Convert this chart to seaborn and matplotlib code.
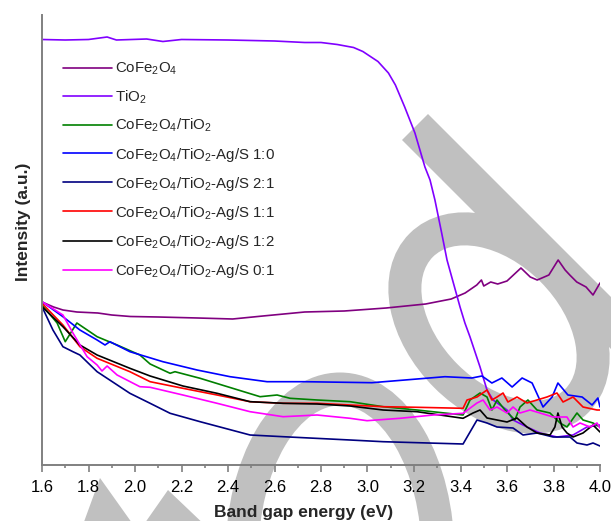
import matplotlib
matplotlib.use("Agg")
import matplotlib.pyplot as plt
from matplotlib.patches import Polygon, Ellipse
from matplotlib.ticker import MultipleLocator
import numpy as np
import pandas as pd
import seaborn as sns

# ---------------- data (band gap energy in eV, intensity in a.u.) ----------------
labels = [
    "CoFe$_\\mathregular{2}$O$_\\mathregular{4}$",
    "TiO$_\\mathregular{2}$",
    "CoFe$_\\mathregular{2}$O$_\\mathregular{4}$/TiO$_\\mathregular{2}$",
    "CoFe$_\\mathregular{2}$O$_\\mathregular{4}$/TiO$_\\mathregular{2}$-Ag/S 1:0",
    "CoFe$_\\mathregular{2}$O$_\\mathregular{4}$/TiO$_\\mathregular{2}$-Ag/S 2:1",
    "CoFe$_\\mathregular{2}$O$_\\mathregular{4}$/TiO$_\\mathregular{2}$-Ag/S 1:1",
    "CoFe$_\\mathregular{2}$O$_\\mathregular{4}$/TiO$_\\mathregular{2}$-Ag/S 1:2",
    "CoFe$_\\mathregular{2}$O$_\\mathregular{4}$/TiO$_\\mathregular{2}$-Ag/S 0:1",
]
colors = ["#800080", "#8000ff", "#008000", "#0000ff", "#000080", "#ff0000", "#000000", "#ff00ff"]

cofe_E = [1.60, 1.65, 1.69, 1.75, 1.84, 1.90, 1.98, 2.10, 2.27, 2.42, 2.55, 2.73, 2.90, 3.08,
          3.25, 3.36, 3.42, 3.47, 3.49, 3.50, 3.53, 3.56, 3.60, 3.66, 3.70, 3.73, 3.78, 3.82,
          3.85, 3.87, 3.90, 3.94, 3.97, 4.00]
cofe_I = [163, 158, 155, 153, 152, 150, 148.5, 148, 147, 146, 149, 153, 154, 157,
          161, 166, 172, 180, 185, 179, 183, 181, 184, 197, 188, 185, 190, 205,
          195, 190, 183, 178, 170, 182]

tio2_E = [1.60, 1.70, 1.80, 1.88, 1.92, 2.05, 2.12, 2.20, 2.40, 2.60, 2.73, 2.80, 2.87, 2.94,
          2.98, 3.045, 3.09, 3.12, 3.16, 3.204, 3.247, 3.269, 3.29, 3.319, 3.342, 3.398, 3.419,
          3.441, 3.484, 3.514, 3.54, 3.60, 3.626, 3.686, 3.742, 3.815, 3.884, 3.944, 4.00]
tio2_I = [425.5, 425, 425.5, 428, 425, 426, 423.5, 425.5, 425, 424, 422.5, 422.5, 420.5, 417.5,
          413.5, 403.5, 392, 380, 358, 332, 298, 285, 265, 232, 205, 158, 142,
          128, 98, 75, 65, 55, 45, 38, 32, 28, 30, 38, 40]

ct_E = [1.60, 1.665, 1.70, 1.75, 1.837, 1.923, 2.021, 2.065, 2.151, 2.172, 2.28, 2.42, 2.538,
        2.611, 2.667, 2.783, 2.925, 3.067, 3.213, 3.411, 3.441, 3.484, 3.514, 3.535, 3.557,
        3.591, 3.634, 3.656, 3.69, 3.729, 3.785, 3.828, 3.858, 3.901, 3.927, 3.97, 4.00]
ct_I = [160, 142, 123.3, 142, 128.3, 120, 110, 101, 91.7, 93.3, 86.7, 76.7, 68.3,
        70, 66.7, 65, 63.3, 58.3, 55, 50, 65, 72, 68, 55, 65,
        55, 45, 58, 65, 55, 52, 42, 38, 52, 45, 42, 38]

s10_E = [1.60, 1.69, 1.763, 1.837, 1.871, 1.892, 1.978, 2.12, 2.267, 2.409, 2.568, 2.731,
         3.019, 3.161, 3.333, 3.449, 3.492, 3.535, 3.578, 3.622, 3.665, 3.708, 3.755, 3.794,
         3.819, 3.862, 3.923, 3.966, 3.991, 4.00]
s10_I = [163.3, 148.3, 135, 125, 120, 123.3, 113.3, 103.3, 95, 88.3, 83.3, 83.3,
         82.3, 85, 88.3, 87, 89, 82, 87, 78, 87, 82, 58, 68,
         82, 70, 68, 60, 67, 58]

s21_E = [1.60, 1.647, 1.69, 1.733, 1.763, 1.837, 1.978, 2.065, 2.151, 2.28, 2.495, 2.637,
         2.925, 3.067, 3.411, 3.471, 3.514, 3.557, 3.626, 3.669, 3.729, 3.798, 3.871, 3.901,
         3.944, 3.97, 4.00]
s21_I = [158.3, 135, 118.3, 113.3, 110, 93.3, 71.7, 61.7, 51.7, 43.3, 30, 28.3,
         25, 23.3, 21, 45, 42, 38, 37, 30, 32, 28, 28, 22,
         20, 22, 19]

s11_E = [1.60, 1.69, 1.763, 1.837, 1.978, 2.065, 2.206, 2.353, 2.495, 2.637, 2.783, 2.925,
         3.067, 3.213, 3.411, 3.428, 3.471, 3.514, 3.535, 3.557, 3.583, 3.604, 3.643, 3.686,
         3.729, 3.772, 3.815, 3.841, 3.884, 3.927, 3.987, 4.00]
s11_I = [161.7, 140, 118.3, 106.7, 93.3, 83.3, 76.7, 70, 63.3, 61.7, 61.7, 60,
         58.3, 57.7, 56.7, 65, 68, 75, 65, 68, 72, 63, 68, 62,
         65, 68, 72, 63, 68, 58, 55, 55]

s12_E = [1.60, 1.69, 1.763, 1.837, 1.978, 2.065, 2.206, 2.353, 2.495, 2.637, 2.783, 2.925,
         3.067, 3.213, 3.411, 3.454, 3.484, 3.514, 3.557, 3.60, 3.643, 3.686, 3.729, 3.785,
         3.806, 3.819, 3.837, 3.858, 3.884, 3.927, 3.97, 4.00]
s12_I = [158.3, 138.3, 120, 110, 96.7, 89, 79, 71.7, 63.3, 61.7, 61, 59,
         55, 53.3, 46.7, 52, 55, 47, 45, 43, 47, 38, 32, 30,
         38, 52, 38, 32, 28, 32, 40, 33]

s01_E = [1.60, 1.69, 1.733, 1.794, 1.837, 1.858, 1.88, 1.923, 2.021, 2.065, 2.206, 2.353,
         2.495, 2.637, 2.783, 2.925, 2.998, 3.14, 3.282, 3.411, 3.471, 3.497, 3.527, 3.557,
         3.60, 3.626, 3.656, 3.699, 3.742, 3.798, 3.858, 3.884, 3.914, 3.957, 3.987, 4.00]
s01_I = [163.3, 150, 132, 108.3, 100, 94, 99, 90, 78.3, 77.7, 70, 61.7,
         53.3, 48.3, 50, 46.7, 44.3, 46.7, 50, 51.7, 62, 65, 55, 58,
         52, 58, 52, 55, 52, 48, 48, 38, 42, 38, 42, 37]

series_E = [cofe_E, tio2_E, ct_E, s10_E, s21_E, s11_E, s12_E, s01_E]
series_I = [cofe_I, tio2_I, ct_I, s10_I, s21_I, s11_I, s12_I, s01_I]

# ---------------- style ----------------
sns.set_style("white")
plt.rcParams["font.family"] = ["Liberation Sans", "DejaVu Sans"]
plt.rcParams["mathtext.fontset"] = "custom"
plt.rcParams["mathtext.rm"] = "Liberation Sans"
plt.rcParams["mathtext.it"] = "Liberation Sans:italic"
plt.rcParams["mathtext.bf"] = "Liberation Sans:bold"

W, H = 611, 521
fig = plt.figure(figsize=(W / 100, H / 100), dpi=100, facecolor="white")

# background watermark (pixel coordinates)
bg = fig.add_axes([0, 0, 1, 1], zorder=0)
bg.set_xlim(0, W)
bg.set_ylim(H, 0)
bg.axis("off")
wm = "#c0c0c0"
lw_wm = 33 * 0.72
bg.add_patch(Polygon([(428, 114), (728, 414), (702, 440), (402, 140)], closed=True,
                     facecolor=wm, edgecolor="none"))
bg.add_patch(Ellipse((499, 323), 220, 150, angle=45, fill=False, edgecolor=wm, linewidth=lw_wm))
bg.add_patch(Ellipse((340, 555), 196, 332, angle=0, fill=False, edgecolor=wm, linewidth=lw_wm))
bg.add_patch(Polygon([(81, 530), (100, 478), (137, 530)], closed=True, facecolor=wm, edgecolor="none"))
bg.add_patch(Polygon([(140, 530), (168, 490), (210, 530)], closed=True, facecolor=wm, edgecolor="none"))

# main axes
L, R, B, T = 42, 600, 465, 15
ax = fig.add_axes([L / W, 1 - B / H, (R - L) / W, (B - T) / H], zorder=1)
ax.set_facecolor("none")

for E, I, lab, c in zip(series_E, series_I, labels, colors):
    sns.lineplot(x=E, y=I, ax=ax, color=c, label=lab, linewidth=1.2)

ax.set_xlim(1.6, 4.0)
ax.set_ylim(0, 450)
ax.xaxis.set_major_locator(MultipleLocator(0.2))
ax.xaxis.set_minor_locator(MultipleLocator(0.1))
ax.xaxis.set_major_formatter(plt.FuncFormatter(lambda v, p: f"{v:.1f}"))
ax.set_yticks([])

for side in ["top", "right"]:
    ax.spines[side].set_visible(False)
for side in ["left", "bottom"]:
    ax.spines[side].set_color("#808080")
    ax.spines[side].set_linewidth(1.4)

ax.tick_params(axis="x", which="major", direction="out", length=5, width=1.2,
               color="#808080", labelsize=12, labelcolor="black", pad=6, bottom=True)
ax.tick_params(axis="x", which="minor", direction="out", length=2.5, width=1.2,
               color="#808080", bottom=True)

ax.set_xlabel("Band gap energy (eV)", fontsize=12.5, fontweight="bold")
ax.xaxis.set_label_coords(0.469, -0.09)
ax.set_ylabel("Intensity (a.u.)", fontsize=12.5, fontweight="bold")
ax.yaxis.set_label_coords(-0.02, 0.54)

leg = ax.legend(loc="upper left", bbox_to_anchor=(63 / W, 1 - 61 / H),
                bbox_transform=fig.transFigure, frameon=False, fontsize=10.8,
                borderpad=0, borderaxespad=0, handlelength=3.25, handletextpad=0.22,
                labelspacing=0.74)
for line in leg.get_lines():
    line.set_linewidth(1.2)

fig.savefig("out.png", dpi=100, facecolor="white")
